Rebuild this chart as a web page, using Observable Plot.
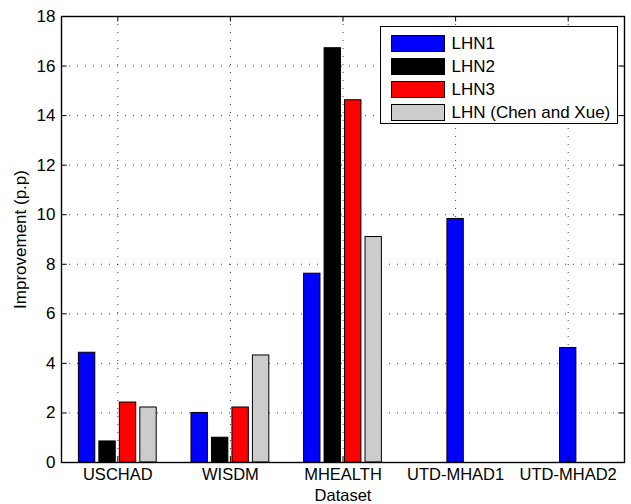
<!DOCTYPE html>
<html><head><meta charset="utf-8">
<script src="https://cdn.jsdelivr.net/npm/d3@7"></script>
<script src="https://cdn.jsdelivr.net/npm/@observablehq/plot@0.6"></script>
<style>
body{margin:0;background:#fff;font-family:"Liberation Sans",Arial,sans-serif;}
#wrap{position:relative;width:631px;height:504px;}
#legend{position:absolute;left:380px;top:26px;width:238px;height:98px;border:1.3px solid #000;background:#fff;box-sizing:border-box;padding-top:4.5px;}
#legend .row{display:flex;align-items:center;height:23px;}
#legend .sw{width:54px;height:17px;box-sizing:border-box;border:1.2px solid #000;margin-left:9.5px;margin-right:7px;}
#legend .lab{font-size:17px;color:#000;line-height:17px;}
</style></head><body><div id="wrap"></div><script>
const datasets = ["USCHAD", "WISDM", "MHEALTH", "UTD-MHAD1", "UTD-MHAD2"];
const series = ["LHN1", "LHN2", "LHN3", "LHN (Chen and Xue)"];
const colors = ["#0000ff", "#000000", "#ff0000", "#cccccc"];
const lhn1 = [4.43, 2.0, 7.62, 9.83, 4.62];
const lhn2 = [0.85, 1.0, 16.72, null, null];
const lhn3 = [2.42, 2.22, 14.62, null, null];
const lhnChenXue = [2.22, 4.32, 9.1, null, null];
const yTicks = [0, 2, 4, 6, 8, 10, 12, 14, 16, 18];
const xLabel = "Dataset";
const yLabel = "Improvement (p.p)";

const values = [lhn1, lhn2, lhn3, lhnChenXue];
const nSeries = series.length;
const groupW = nSeries / (nSeries + 1.5);
const pitch = groupW / nSeries;
const barW = pitch * 0.8;
const rows = [];
datasets.forEach((ds, i) => {
  const present = series.map((s, j) => ({s, v: values[j][i]})).filter(d => d.v != null);
  const k = present.length;
  present.forEach((d, j) => {
    const c = i + 1 + (j - (k - 1) / 2) * pitch;
    rows.push({dataset: ds, series: d.s, value: d.v, x1: c - barW / 2, x2: c + barW / 2});
  });
});
const xPos = datasets.map((d, i) => i + 1);
const xMin = 0.5, xMax = datasets.length + 0.5;
const yMin = yTicks[0], yMax = yTicks[yTicks.length - 1];
const tx = 0.05, ty = 0.22;

const chart = Plot.plot({
  width: 631, height: 504,
  marginLeft: 61, marginRight: 7, marginTop: 16, marginBottom: 42,
  style: {fontFamily: "Liberation Sans, Arial, sans-serif", fontSize: "17px", color: "#000", background: "#fff"},
  x: {type: "linear", domain: [xMin, xMax]},
  y: {domain: [yMin, yMax]},
  color: {domain: series, range: colors},
  marks: [
    Plot.ruleY(yTicks.slice(1, -1), {stroke: "#000", strokeOpacity: 0.75, strokeDasharray: "1,7"}),
    Plot.ruleX(xPos, {stroke: "#000", strokeOpacity: 0.75, strokeDasharray: "1,7"}),
    Plot.rect(rows, {x1: "x1", x2: "x2", y1: 0, y2: "value", fill: "series", stroke: "#000", strokeWidth: 1}),
    Plot.frame({stroke: "#000", strokeWidth: 1.4}),
    Plot.ruleY(yTicks, {x1: xMin, x2: xMin + tx, stroke: "#000"}),
    Plot.ruleY(yTicks, {x1: xMax - tx, x2: xMax, stroke: "#000"}),
    Plot.ruleX(xPos, {y1: yMin, y2: yMin + ty, stroke: "#000"}),
    Plot.ruleX(xPos, {y1: yMax - ty, y2: yMax, stroke: "#000"}),
    Plot.axisY(yTicks, {tickSize: 0, tickPadding: 6, fontSize: 17, label: yLabel, labelAnchor: "center", labelArrow: "none", labelOffset: 48}),
    Plot.axisX(xPos, {tickSize: 0, tickPadding: 6, fontSize: 16.5, tickFormat: d => datasets[d - 1], label: xLabel, labelAnchor: "center", labelArrow: "none", labelOffset: 38})
  ]
});
const wrap = document.getElementById("wrap");
wrap.appendChild(chart);
const legend = document.createElement("div");
legend.id = "legend";
series.forEach((s, j) => {
  const row = document.createElement("div");
  row.className = "row";
  const sw = document.createElement("div");
  sw.className = "sw";
  sw.style.background = colors[j];
  const lab = document.createElement("span");
  lab.className = "lab";
  lab.textContent = s;
  row.appendChild(sw); row.appendChild(lab);
  legend.appendChild(row);
});
wrap.appendChild(legend);
</script></body></html>
